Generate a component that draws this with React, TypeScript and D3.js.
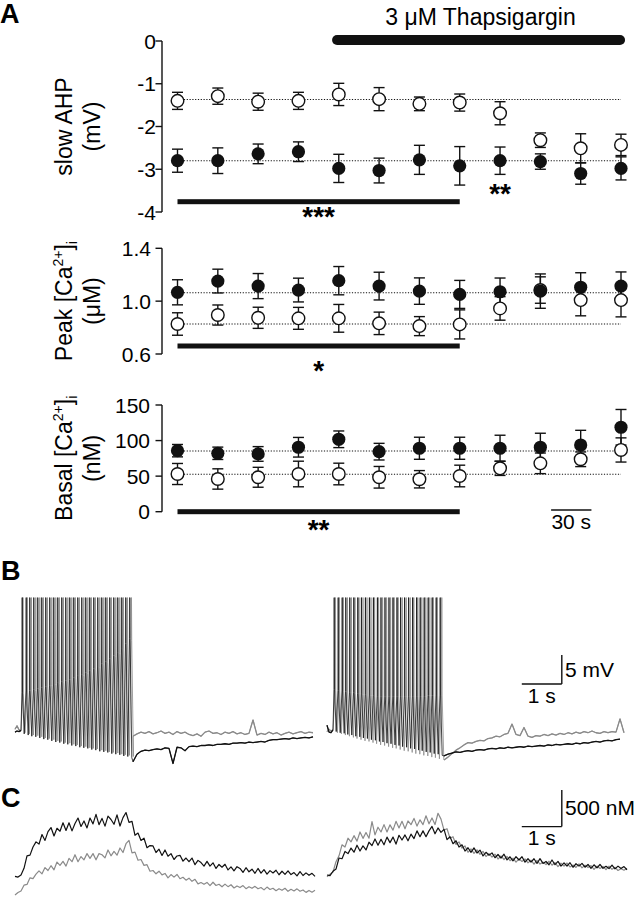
import React from "react";
import * as d3 from "d3";

// ---------------- Panel A data ----------------
const TIME_S = [0, 30, 60, 90, 120, 150, 180, 210, 240, 270, 300, 330];
const THAPSIGARGIN_S = [115, 333];
const SIG_RANGE_S = [0, 210];
const SCALE_30S_START = 278;

const AHP_TICKS = [0, -1, -2, -3, -4];
const AHP_OPEN = [-1.40, -1.29, -1.42, -1.40, -1.25, -1.36, -1.47, -1.44, -1.69, -2.32, -2.51, -2.43];
const AHP_OPEN_ERR = [0.20, 0.19, 0.20, 0.20, 0.26, 0.27, 0.16, 0.20, 0.27, 0.17, 0.34, 0.25];
const AHP_FILLED = [-2.80, -2.80, -2.64, -2.59, -2.98, -3.03, -2.78, -2.92, -2.80, -2.82, -3.10, -2.98];
const AHP_FILLED_ERR = [0.27, 0.30, 0.23, 0.23, 0.33, 0.29, 0.34, 0.45, 0.32, 0.18, 0.25, 0.27];
const AHP_REF = [-1.37, -2.80];

const PEAK_TICKS = [0.6, 1.0, 1.4];
const PEAK_FILLED = [1.067, 1.152, 1.114, 1.084, 1.155, 1.114, 1.076, 1.051, 1.071, 1.076, 1.105, 1.114];
const PEAK_FILLED_ERR = [0.095, 0.09, 0.095, 0.09, 0.107, 0.105, 0.10, 0.106, 0.104, 0.13, 0.11, 0.107];
const PEAK_OPEN = [0.827, 0.895, 0.874, 0.870, 0.870, 0.832, 0.811, 0.824, 0.945, 1.084, 1.008, 1.008];
const PEAK_OPEN_ERR = [0.085, 0.076, 0.08, 0.083, 0.105, 0.085, 0.072, 0.11, 0.089, 0.10, 0.119, 0.127];
const PEAK_REF = [0.827, 1.064];

const BASAL_TICKS = [0, 50, 100, 150];
const BASAL_FILLED = [85.8, 82.1, 81.2, 90.6, 101.8, 84.4, 89.2, 89.2, 89.2, 90.6, 93.8, 118.7];
const BASAL_FILLED_ERR = [8.7, 8.7, 10.3, 13.8, 11.7, 11.7, 15.5, 15.5, 18.3, 19.7, 20.6, 25.0];
const BASAL_OPEN = [53, 46, 48.4, 53, 53, 48.4, 45.6, 50.2, 61, 68, 73.7, 86.8];
const BASAL_OPEN_ERR = [14.8, 14.3, 14, 18, 15.2, 15.2, 12.2, 15.2, 10, 14.5, 10.3, 17];
const BASAL_REF = [52.6, 85.4];

// ---------------- Panel B data (mV, s) ----------------
type Spike = [number, number, number]; // time, AHP trough, spike shoulder
const SPIKE_PEAK_MV = 23;
const PRE_DT = 0.05;
const POST_DT = 0.1;

const BL_BLACK_PRE = [-0.2, 0.0, -0.1, 0.1];
const BL_GRAY_PRE = [0.3, 0.9, 0.2, 0.0];
const BL_BLACK_SPIKES: Spike[] = [
  [0.18, -0.5, 6.7], [0.28, -0.7, 6.9], [0.37, -0.9, 7.0], [0.47, -1.0, 7.2], [0.57, -1.2, 7.3], [0.67, -1.4, 7.5],
  [0.77, -1.5, 7.7], [0.87, -1.7, 7.9], [0.97, -1.9, 8.1], [1.07, -2.0, 8.3], [1.17, -2.2, 8.5], [1.27, -2.3, 8.7],
  [1.37, -2.5, 8.9], [1.47, -2.6, 9.2], [1.57, -2.8, 9.5], [1.67, -2.9, 9.8], [1.77, -3.0, 10.1], [1.87, -3.2, 10.4],
  [1.97, -3.3, 10.8], [2.07, -3.5, 11.2], [2.17, -3.6, 11.6], [2.27, -3.7, 12.0], [2.37, -3.9, 12.5], [2.47, -4.0, 13.0],
  [2.57, -4.1, 13.6], [2.67, -4.3, 14.3], [2.77, -4.4, 15.1], [2.87, -4.6, 16.0],
];
const BL_GRAY_SPIKES: Spike[] = [
  [0.20, -0.3, 6.5], [0.31, -0.5, 6.7], [0.41, -0.7, 6.9], [0.52, -0.8, 7.0], [0.62, -1.0, 7.2], [0.71, -1.2, 7.4],
  [0.81, -1.3, 7.6], [0.92, -1.5, 7.8], [1.02, -1.7, 8.0], [1.11, -1.8, 8.2], [1.21, -2.0, 8.4], [1.32, -2.1, 8.6],
  [1.42, -2.3, 8.8], [1.51, -2.4, 9.0], [1.61, -2.6, 9.3], [1.72, -2.7, 9.6], [1.82, -2.9, 9.9], [1.91, -3.0, 10.2],
  [2.01, -3.1, 10.6], [2.12, -3.3, 11.0], [2.22, -3.4, 11.4], [2.31, -3.6, 11.8], [2.41, -3.7, 12.3], [2.52, -3.8, 12.8],
  [2.62, -4.0, 13.4], [2.71, -4.1, 14.0], [2.81, -4.2, 14.8], [2.91, -4.4, 15.6],
];
const BL_POST_T0 = 2.95;
const BL_BLACK_POST = [-5.3, -4.0, -3.5, -3.3, -3.4, -3.2, -3.1, -3.2, -2.9, -3.0, -5.6, -2.8, -2.9, -3.4, -2.7, -2.6, -2.7, -2.5, -2.5, -2.4,
  -2.5, -2.3, -2.3, -2.2, -2.3, -2.1, -2.1, -2.0, -2.1, -1.9, -2.0, -1.9, -1.8, -1.9, -1.6, -1.5, -1.5, -1.4, -1.3, -1.4,
  -1.2, -1.3, -1.2, -1.1, -1.2, -1.0];
const BL_GRAY_POST = [-0.9, -0.5, -0.2, -0.4, -0.1, -0.5, -0.3, 0.0, -0.4, -0.2, -0.6, -0.1, -0.4, -0.2, -0.6, -0.8, -0.5, -0.9, -0.2, 0.0,
  -0.4, -0.3, -0.6, -0.2, -0.4, -0.1, -0.5, -0.3, -0.6, -0.4, 1.9, -0.7, -0.4, -0.6, -0.2, -0.5, -0.3, -0.7, -0.4, -0.2,
  -0.5, -0.3, -0.1, -0.4, -0.2, -0.3];

const BR_BLACK_PRE = [1.0, -0.2, -0.3, 0.2];
const BR_GRAY_PRE = [-0.1, 0.3, 0.0, 0.2];
const BR_BLACK_SPIKES: Spike[] = [
  [0.18, -0.1, 7.1], [0.28, -0.3, 7.0], [0.38, -0.4, 6.9], [0.47, -0.6, 6.8], [0.57, -0.7, 6.7], [0.67, -0.9, 6.6],
  [0.77, -1.0, 6.5], [0.86, -1.2, 6.4], [0.96, -1.3, 6.3], [1.06, -1.5, 6.2], [1.16, -1.6, 6.1], [1.26, -1.8, 6.0],
  [1.35, -1.9, 6.0], [1.45, -2.1, 5.9], [1.55, -2.2, 5.9], [1.65, -2.4, 5.9], [1.75, -2.5, 5.9], [1.84, -2.7, 5.9],
  [1.94, -2.8, 5.9], [2.04, -3.0, 5.9], [2.14, -3.1, 6.0], [2.24, -3.3, 6.0], [2.33, -3.4, 6.0], [2.43, -3.6, 6.0],
  [2.53, -3.7, 6.1], [2.63, -3.9, 6.1], [2.73, -4.0, 6.2], [2.83, -4.2, 6.2],
];
const BR_GRAY_SPIKES: Spike[] = [
  [0.21, -0.3, 7.0], [0.31, -0.5, 6.9], [0.41, -0.7, 6.8], [0.51, -0.9, 6.7], [0.61, -1.1, 6.6], [0.70, -1.3, 6.5],
  [0.80, -1.5, 6.4], [0.90, -1.7, 6.3], [1.00, -1.8, 6.2], [1.10, -2.0, 6.1], [1.19, -2.2, 6.0], [1.29, -2.4, 6.0],
  [1.39, -2.5, 5.9], [1.49, -2.7, 5.9], [1.59, -2.9, 5.9], [1.68, -3.0, 5.9], [1.78, -3.2, 5.9], [1.88, -3.4, 5.9],
  [1.98, -3.5, 5.9], [2.08, -3.7, 5.9], [2.17, -3.9, 6.0], [2.27, -4.0, 6.0], [2.37, -4.2, 6.0], [2.47, -4.3, 6.0],
  [2.57, -4.5, 6.1], [2.66, -4.6, 6.1], [2.76, -4.8, 6.2], [2.87, -4.9, 6.2],
];
const BR_POST_T0 = 2.925;
const BR_BLACK_POST = [-4.3, -4.0, -3.8, -3.6, -3.7, -3.5, -3.4, -3.5, -3.3, -3.2, -3.3, -3.1, -3.0, -3.1, -2.9, -3.0, -2.8, -2.9, -2.8, -2.7,
  -2.8, -2.6, -2.7, -2.6, -2.5, -2.6, -2.4, -2.5, -2.3, -2.4, -2.3, -2.2, -2.3, -2.1, -2.2, -2.0, -2.1, -1.9, -1.8, -1.9,
  -1.7, -1.6, -1.7, -1.5, -1.4];
const BR_GRAY_POST = [-5.0, -4.5, -3.9, -3.3, -2.9, -2.4, -2.0, -2.1, -1.8, -1.6, -1.7, -1.3, -1.2, -0.9, -1.0, -0.6, -0.4, 1.2, -0.6, -0.8,
  0.6, -0.9, -1.1, -0.8, -0.9, -0.6, -0.8, -0.5, -0.7, -0.4, -0.6, -0.3, -0.5, -0.2, -0.4, -0.1, -0.3, 0.0, -0.3, -0.4,
  -0.1, -0.3, -0.1, -0.2, 2.1, -0.3];

// ---------------- Panel C data (nM, s) ----------------
const C_DT = 0.075;
const CL_BLACK = [390, 380, 410, 500, 670, 680, 790, 860, 830, 960, 880, 1000, 1055, 940, 1045, 1005, 1120, 1015, 1120, 1010,
  1110, 1185, 1070, 1145, 1050, 1185, 1105, 1235, 1095, 1180, 1075, 1210, 1165, 1100, 1228, 1076, 1190, 1260, 1125, 1140,
  950, 980, 880, 910, 780, 810, 805, 715, 760, 675, 750, 665, 700, 620, 668, 677, 598, 640, 590, 640,
  550, 608, 578, 530, 595, 530, 575, 498, 552, 515, 555, 478, 520, 466, 522, 498, 444, 508, 452, 488,
  432, 498, 434, 482, 420, 468, 436, 474, 412, 460, 418, 466, 414, 442, 398, 456, 402, 438, 405, 432, 389];
const CL_GRAY = [136, 170, 190, 270, 280, 370, 360, 420, 465, 425, 510, 470, 535, 480, 585, 540, 595, 530, 635, 590,
  685, 590, 660, 615, 700, 635, 700, 615, 700, 685, 642, 750, 670, 730, 678, 777, 715, 835, 880, 710,
  720, 610, 620, 540, 550, 460, 470, 425, 460, 410, 430, 370, 415, 380, 416, 358, 378, 338, 365, 322,
  350, 288, 306, 282, 308, 264, 310, 266, 282, 248, 284, 250, 276, 232, 260, 238, 265, 222, 250, 227,
  254, 221, 238, 206, 244, 211, 228, 195, 222, 200, 228, 186, 214, 192, 220, 188, 205, 172, 199, 175, 201];
const CR_BLACK = [409, 400, 460, 490, 640, 630, 730, 700, 775, 720, 815, 735, 805, 750, 855, 810, 900, 815, 895, 820,
  925, 850, 925, 830, 950, 885, 955, 875, 965, 905, 1010, 930, 1010, 930, 1010, 1070, 970, 1050, 990, 1030,
  890, 930, 835, 875, 790, 820, 735, 780, 718, 778, 708, 748, 668, 718, 678, 710, 644, 688, 640, 692,
  615, 657, 602, 658, 613, 658, 584, 630, 585, 630, 566, 631, 567, 593, 548, 613, 549, 594, 530, 575,
  530, 576, 514, 562, 530, 567, 515, 552, 500, 548, 505, 552, 500, 528, 496, 544, 492, 530, 497, 524, 480];
const CR_GRAY = [386, 420, 450, 590, 670, 820, 790, 910, 860, 945, 870, 995, 908, 988, 910, 1135, 955, 1060, 995, 1095,
  995, 1092, 1020, 1140, 1050, 1140, 1038, 1145, 1095, 1180, 1075, 1160, 1095, 1216, 1106, 1186, 1096, 1250, 1170, 1020,
  1040, 910, 930, 825, 860, 775, 805, 718, 765, 703, 752, 690, 730, 660, 700, 652, 694, 626, 668, 620,
  662, 604, 638, 583, 628, 593, 628, 574, 610, 556, 608, 558, 584, 550, 596, 542, 578, 524, 570, 530,
  572, 518, 545, 512, 559, 506, 543, 510, 537, 484, 531, 498, 525, 482, 529, 486, 513, 470, 494, 474, 500];

// ---------------- styling ----------------
const FONT = "'Liberation Sans', Arial, Helvetica, sans-serif";
const BLACK = "#111";
const GRAY = "#8a8a8a";

function trainPoints(pre: number[], spikes: Spike[], post: number[], postT0: number) {
  const pts: [number, number][] = [];
  pre.forEach((v, i) => pts.push([i * PRE_DT, v]));
  spikes.forEach(([t, tr, sh]) => {
    pts.push([t - 0.006, sh], [t - 0.002, SPIKE_PEAK_MV], [t + 0.002, SPIKE_PEAK_MV], [t + 0.008, sh], [t + 0.05, tr]);
  });
  post.forEach((v, k) => pts.push([postT0 + k * POST_DT, v]));
  return pts;
}

export default function App() {
  const xA = d3.scaleLinear().domain([0, 330]).range([177.5, 621]);
  const AXIS_X = 162;

  const iLabel = (word: string) => [
    <tspan key="a">{word} [Ca</tspan>,
    <tspan key="b" fontSize={14} dy={-9}>2+</tspan>,
    <tspan key="c" dy={9}>]</tspan>,
    <tspan key="d" fontSize={14} dy={5}>i</tspan>,
  ];

  const panels = [
    {
      key: "ahp", y: d3.scaleLinear().domain([-4, 0]).range([212, 41]), ticks: AHP_TICKS, fmt: (v: number) => String(v), labelX: 156,
      open: AHP_OPEN, openE: AHP_OPEN_ERR, filled: AHP_FILLED, filledE: AHP_FILLED_ERR, refs: AHP_REF,
      sigBarY: 201.7, stars: "***", starsY: 226,
      label: [<tspan key="a">slow AHP</tspan>], unit: "(mV)",
    },
    {
      key: "peak", y: d3.scaleLinear().domain([0.6, 1.4]).range([354, 248.3]), ticks: PEAK_TICKS, fmt: d3.format(".1f"), labelX: 151,
      open: PEAK_OPEN, openE: PEAK_OPEN_ERR, filled: PEAK_FILLED, filledE: PEAK_FILLED_ERR, refs: PEAK_REF,
      sigBarY: 346, stars: "*", starsY: 380,
      label: iLabel("Peak"), unit: "(\u03bcM)",
    },
    {
      key: "basal", y: d3.scaleLinear().domain([0, 150]).range([511.7, 405]), ticks: BASAL_TICKS, fmt: (v: number) => String(v), labelX: 150,
      open: BASAL_OPEN, openE: BASAL_OPEN_ERR, filled: BASAL_FILLED, filledE: BASAL_FILLED_ERR, refs: BASAL_REF,
      sigBarY: 511.7, stars: "**", starsY: 539,
      label: iLabel("Basal"), unit: "(nM)",
    },
  ];

  const errBars = (y: d3.ScaleLinear<number, number>, vals: number[], errs: number[], k: string) =>
    vals.map((v, i) => {
      const x = xA(TIME_S[i]);
      const y0 = y(v - errs[i]);
      const y1 = y(v + errs[i]);
      return (
        <g key={k + i} stroke={BLACK} strokeWidth={1.4}>
          <line x1={x} x2={x} y1={y0} y2={y1} />
          <line x1={x - 5.5} x2={x + 5.5} y1={y0} y2={y0} />
          <line x1={x - 5.5} x2={x + 5.5} y1={y1} y2={y1} />
        </g>
      );
    });

  // B & C trace scales
  const xL = d3.scaleLinear().domain([0, 7.5]).range([15, 315]);
  const xR = d3.scaleLinear().domain([0, 7.5]).range([327, 627]);
  const yB = d3.scaleLinear().domain([0, 5]).range([731, 702]);
  const yC = d3.scaleLinear().domain([0, 500]).range([905, 868.3]);

  const lineFor = (xs: d3.ScaleLinear<number, number>, ys: d3.ScaleLinear<number, number>) =>
    d3.line<[number, number]>().x((d) => xs(d[0])).y((d) => ys(d[1]));

  const bTraces = [
    { xs: xL, pts: trainPoints(BL_GRAY_PRE, BL_GRAY_SPIKES, BL_GRAY_POST, BL_POST_T0), pre: BL_GRAY_PRE, post: BL_GRAY_POST, t0: BL_POST_T0, color: GRAY },
    { xs: xL, pts: trainPoints(BL_BLACK_PRE, BL_BLACK_SPIKES, BL_BLACK_POST, BL_POST_T0), pre: BL_BLACK_PRE, post: BL_BLACK_POST, t0: BL_POST_T0, color: BLACK },
    { xs: xR, pts: trainPoints(BR_GRAY_PRE, BR_GRAY_SPIKES, BR_GRAY_POST, BR_POST_T0), pre: BR_GRAY_PRE, post: BR_GRAY_POST, t0: BR_POST_T0, color: GRAY },
    { xs: xR, pts: trainPoints(BR_BLACK_PRE, BR_BLACK_SPIKES, BR_BLACK_POST, BR_POST_T0), pre: BR_BLACK_PRE, post: BR_BLACK_POST, t0: BR_POST_T0, color: BLACK },
  ];

  const cTraces = [
    { xs: xL, vals: CL_GRAY, color: GRAY },
    { xs: xL, vals: CL_BLACK, color: BLACK },
    { xs: xR, vals: CR_GRAY, color: GRAY },
    { xs: xR, vals: CR_BLACK, color: BLACK },
  ];

  // scale bars (data units)
  const sbBx = xR(5.87), sbBy0 = yB(8.1), sbBy1 = yB(13.1);
  const sbCx = xR(5.87), sbCy0 = yC(1068), sbCy1 = yC(1568);
  const sbT0 = xR(4.87);

  return (
    <svg width={636} height={900} style={{ position: "absolute", left: 0, top: 0, background: "#fff" }} fontFamily={FONT}>
      <rect width={636} height={900} fill="#fff" />
      {/* Panel letters */}
      <text x={0} y={23} fontSize={27} fontWeight="bold">A</text>
      <text x={1} y={580} fontSize={27} fontWeight="bold">B</text>
      <text x={1} y={807} fontSize={27} fontWeight="bold">C</text>

      {/* Thapsigargin */}
      <text x={480.5} y={25} fontSize={23} textAnchor="middle">3 {"\u03bc"}M Thapsigargin</text>
      <rect x={xA(THAPSIGARGIN_S[0])} y={35} width={xA(THAPSIGARGIN_S[1]) - xA(THAPSIGARGIN_S[0])} height={10} rx={5} fill={BLACK} />

      {panels.map((p) => {
        const ext = d3.extent(p.ticks) as [number, number];
        const cy = (p.y(ext[0]) + p.y(ext[1])) / 2;
        return (
          <g key={p.key}>
            <line x1={AXIS_X} x2={AXIS_X} y1={p.y(ext[1])} y2={p.y(ext[0])} stroke={BLACK} strokeWidth={1.4} />
            {p.ticks.map((t) => (
              <g key={t}>
                <line x1={AXIS_X - 6.5} x2={AXIS_X} y1={p.y(t)} y2={p.y(t)} stroke={BLACK} strokeWidth={1.4} />
                <text x={p.labelX} y={p.y(t)} dy="0.36em" fontSize={21} textAnchor="end">{p.fmt(t)}</text>
              </g>
            ))}
            <text transform={`translate(72,${cy}) rotate(-90)`} fontSize={23} textAnchor="middle">{p.label}</text>
            <text transform={`translate(100,${cy}) rotate(-90)`} fontSize={23} textAnchor="middle">{p.unit}</text>
            {p.refs.map((r, i) => (
              <line key={i} x1={xA(TIME_S[0]) - 2} x2={xA(TIME_S[TIME_S.length - 1])} y1={p.y(r)} y2={p.y(r)}
                stroke={BLACK} strokeWidth={1.1} strokeDasharray="1.2,1.6" />
            ))}
            <rect x={xA(SIG_RANGE_S[0])} y={p.sigBarY - 2.5} width={xA(SIG_RANGE_S[1]) - xA(SIG_RANGE_S[0])} height={5} fill={BLACK} />
            <text x={(xA(SIG_RANGE_S[0]) + xA(SIG_RANGE_S[1])) / 2} y={p.starsY} fontSize={28} fontWeight="bold" textAnchor="middle">{p.stars}</text>
            {errBars(p.y, p.open, p.openE, "oe")}
            {errBars(p.y, p.filled, p.filledE, "fe")}
            {p.open.map((v, i) => (
              <circle key={"o" + i} cx={xA(TIME_S[i])} cy={p.y(v)} r={6.3} fill="#fff" stroke={BLACK} strokeWidth={1.4} />
            ))}
            {p.filled.map((v, i) => (
              <circle key={"f" + i} cx={xA(TIME_S[i])} cy={p.y(v)} r={6.6} fill={BLACK} />
            ))}
          </g>
        );
      })}
      {/* extra significance under 9th point of slow AHP */}
      <text x={xA(TIME_S[8])} y={202.5} fontSize={28} fontWeight="bold" textAnchor="middle">**</text>

      {/* 30 s scale bar */}
      <line x1={xA(SCALE_30S_START)} x2={xA(SCALE_30S_START + 30)} y1={510} y2={510} stroke={BLACK} strokeWidth={1.4} />
      <text x={(xA(SCALE_30S_START) + xA(SCALE_30S_START + 30)) / 2} y={529} fontSize={21} textAnchor="middle">30 s</text>

      {/* Panel B traces */}
      {bTraces.map((tr, i) => {
        const ln = lineFor(tr.xs, yB);
        const prePts = tr.pre.map((v, k) => [k * PRE_DT, v] as [number, number]);
        const postPts = tr.post.map((v, k) => [tr.t0 + k * POST_DT, v] as [number, number]);
        return (
          <g key={"b" + i} fill="none" stroke={tr.color} strokeLinejoin="round">
            <path d={ln(tr.pts) || ""} strokeWidth={0.8} />
            <path d={ln(prePts) || ""} strokeWidth={1.3} />
            <path d={ln(postPts) || ""} strokeWidth={1.3} />
          </g>
        );
      })}
      <g stroke={BLACK} strokeWidth={1.4} fill="none">
        <line x1={sbBx} x2={sbBx} y1={sbBy0} y2={sbBy1} />
        <line x1={sbT0} x2={sbBx} y1={sbBy0} y2={sbBy0} />
        <line x1={sbCx} x2={sbCx} y1={sbCy0} y2={sbCy1} />
        <line x1={sbT0} x2={sbCx} y1={sbCy0} y2={sbCy0} />
      </g>
      <text x={565} y={677} fontSize={21}>5 mV</text>
      <text x={(sbT0 + sbBx) / 2} y={703} fontSize={21} textAnchor="middle">1 s</text>
      <text x={565} y={815} fontSize={21}>500 nM</text>
      <text x={(sbT0 + sbCx) / 2} y={845} fontSize={21} textAnchor="middle">1 s</text>

      {/* Panel C traces */}
      {cTraces.map((tr, i) => {
        const ln = lineFor(tr.xs, yC);
        const pts = tr.vals.map((v, k) => [k * C_DT, v] as [number, number]);
        return <path key={"c" + i} d={ln(pts) || ""} fill="none" stroke={tr.color} strokeWidth={1.2} strokeLinejoin="round" />;
      })}
    </svg>
  );
}
